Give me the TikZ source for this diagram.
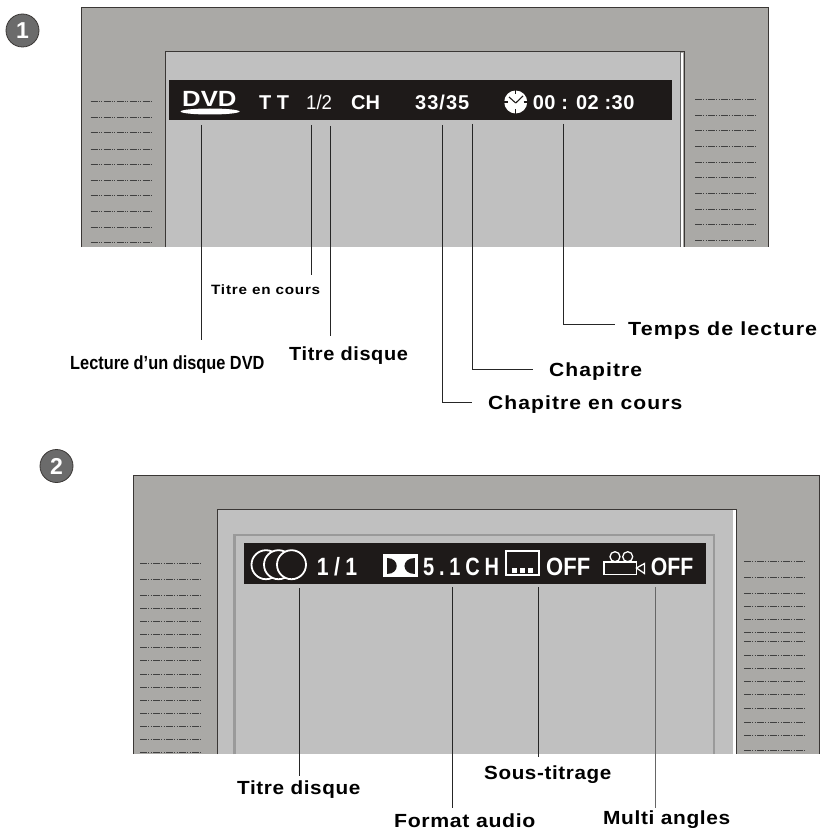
\documentclass[tikz,border=0pt]{standalone}
\usepackage{fontspec}
\setmainfont{Liberation Sans}
\usetikzlibrary{calc}
\definecolor{tvgrey}{HTML}{AAA9A6}
\definecolor{scrgrey}{HTML}{C0C0C0}
\definecolor{barblack}{HTML}{1E1A19}
\definecolor{framegrey}{HTML}{9A9A9A}
\definecolor{edgedark}{HTML}{3A3735}
\newcommand{\wide}[3]{\scalebox{#1}[1]{\addfontfeature{LetterSpace=#2}#3}}
\tikzset{
	lab/.style={anchor=base west,inner sep=0pt,text=black,font=\bfseries\fontsize{19}{19}\selectfont},
	smalllab/.style={lab,font=\bfseries\fontsize{13.5}{13.5}\selectfont},
	bartxt/.style={anchor=base west,inner sep=0pt,text=white,font=\bfseries\fontsize{20}{20}\selectfont},
	bigtxt/.style={bartxt,font=\bfseries\fontsize{25}{25}\selectfont},
	badge/.style={circle,draw=edgedark,fill=black!58,line width=0.8pt,minimum size=33pt,inner sep=0pt,text=white,font=\bfseries\fontsize{23}{23}\selectfont},
	callout/.style={line width=1pt,color=black!85},
	grille/.style={line width=1pt,color=black!75,dash pattern=on 7pt off 1.2pt on 1.2pt off 1.2pt on 1.2pt off 1.2pt},
	tvedge/.style={line width=1pt,color=edgedark},
	iconline/.style={draw=white,line width=1.3pt}
}
\begin{document}
\begin{tikzpicture}[x=1pt,y=-1pt]
	\useasboundingbox(0,0) rectangle (821,832);
	\node[badge] (one) at (22.5,30.5) {1};
	\node[badge] (two) at (56.5,466) {2};

	% first set
	\fill[tvgrey](81,8) rectangle (768,247);
	\fill[scrgrey](165,52) rectangle (680,247);
	\fill[white](680,53) rectangle (683,247);
	\draw[tvedge](81,247) -- (81,8) -- (768,8) -- (768,247);
	\draw[tvedge](165,247) -- (165,52) -- (684,52) -- (684,247);
	\draw[color=black!60](680,52) -- (680,247);
	\foreach \y in {102,117.7,133,149,164.5,180,195.5,211,227,242.7}
		\draw[grille](90.5,\y) -- (153,\y);
	\foreach \y in {100,115.7,131,146.5,162,177.5,193.5,209,224.5,240}
		\draw[grille](695,\y) -- (757,\y);
	\fill[barblack](169,80) rectangle (672,120);

	\node[bartxt,font=\bfseries\fontsize{22}{22}\selectfont] (dvd) at (182,106.7) {\wide{1.17}{0}{DVD}};
	\fill[white](210,111.5) ellipse (29.5 and 3);
	\node[bartxt] (tt) at (259,110) {T T};
	\node[bartxt,font=\fontsize{20}{20}\selectfont] (titlenum) at (306,110) {\wide{.93}{0}{1/2}};
	\node[bartxt] (ch) at (351,110) {CH};
	\node[bartxt] (chapnum) at (415,110) {\wide{1}{5}{33/35}};
	\fill[white](515.7,102) circle (11.5);
	\draw[color=barblack,line width=1.1pt](515.7,103) -- (509,97);
	\draw[color=barblack,line width=1.1pt](515.7,103) -- (523,96);
	\draw[color=barblack,line width=1.1pt](515.7,90) -- (515.7,94);
	\draw[color=barblack,line width=1.1pt](515.7,109.5) -- (515.7,114);
	\draw[color=barblack,line width=1.1pt](504,102) -- (508,102);
	\draw[color=barblack,line width=1.1pt](523.5,102) -- (527.5,102);
	\node[bartxt] (clocktime) at (532.7,110) {\wide{1}{2}{00 : 02 :30}};

	\coordinate (dvdtop) at (201,125);
	\coordinate (numtop) at (311,125);
	\coordinate (titletop) at (330,126);
	\coordinate (curtop) at (442.7,125);
	\coordinate (chaptop) at (472.7,124);
	\coordinate (timetop) at (563,124);
	\node[lab] (lecture) at (70,369) {\wide{.86}{0}{Lecture d’un disque DVD}};
	\node[smalllab] (encours) at (211,294) {\wide{1.13}{5}{Titre en cours}};
	\node[lab] (titre) at (289,360) {\wide{1.05}{3}{Titre disque}};
	\node[lab] (temps) at (628,335) {\wide{1.13}{5}{Temps de lecture}};
	\node[lab] (chapitre) at (549,376.7) {\wide{1.11}{5}{Chapitre}};
	\node[lab] (chapcours) at (488,409) {\wide{1.11}{5}{Chapitre en cours}};
	\draw[callout,shorten >=15.3pt](dvdtop) -- (dvdtop |- lecture.north);
	\draw[callout,shorten >=9.2pt](numtop) -- (numtop |- encours.north);
	\draw[callout,shorten >=10.3pt](titletop) -- (titletop |- titre.north);
	\draw[callout,shorten >=13pt](timetop) |- ([yshift=6pt]temps.west);
	\draw[callout,shorten >=16pt](chaptop) |- ([yshift=2pt]chapitre.west);
	\draw[callout,shorten >=16pt](curtop) |- ([yshift=2pt]chapcours.west);

	% second set
	\fill[tvgrey](133,475) rectangle (819,754);
	\fill[scrgrey](217,509) rectangle (733,754);
	\fill[white](733,510) rectangle (735.5,754);
	\draw[tvedge](133,754) -- (133,475) -- (819,475) -- (819,754);
	\draw[tvedge](217,754) -- (217,509) -- (736,509) -- (736,754);
	\draw[color=framegrey,line width=2.5pt](234.5,754) -- (234.5,535) -- (714,535) -- (714,754);
	\foreach \y in {563.7,579,595,608,621,634.7,647.3,660.7,674,687,700,713,726,739,752.5}
		\draw[grille](140,\y) -- (202,\y);
	\foreach \y in {561.7,577,593,606,619,632,641.7,655,668,681,694,708,722,735,750}
		\draw[grille](744,\y) -- (806,\y);
	\fill[barblack](244,543) rectangle (706,584);

	\foreach \x in {266,278.5,291.5}
		\draw[iconline,fill=barblack,line width=1.8pt](\x,564.7) circle (14.5);
	\node[bigtxt] (audionum) at (316.7,575) {\wide{.85}{25}{1/1}};
	\fill[white](383,554) rectangle (418,577);
	\fill[barblack](386.5,558) .. controls (400,558) and (400,573.5) .. (386.5,573.5) -- cycle;
	\fill[barblack](414.5,558) .. controls (401,558) and (401,573.5) .. (414.5,573.5) -- cycle;
	\node[bigtxt] (format) at (423,575) {\wide{.8}{24}{5.1CH}};
	\draw[iconline](506,551) rectangle (539,575);
	\fill[white](512,567.5) rectangle (517,573);
	\fill[white](520,567.5) rectangle (525,573);
	\fill[white](528,567.5) rectangle (533,573);
	\node[bigtxt] (suboff) at (546,575.7) {\wide{.88}{0}{OFF}};
	\draw[iconline](604,562) rectangle (636.5,574.7);
	\draw[iconline](615,556.7) circle (5);
	\draw[iconline](627.7,556.7) circle (5);
	\draw[iconline](636.5,568) -- (644.5,563.5) -- (644.5,573.5) -- cycle;
	\node[bigtxt] (camoff) at (650.7,575.7) {\wide{.85}{0}{OFF}};

	\coordinate (disctop) at (299.3,588);
	\coordinate (formattop) at (452.3,587);
	\coordinate (subtop) at (538.3,587);
	\coordinate (angletop) at (655.7,587);
	\node[lab] (titrebis) at (237,794) {\wide{1.09}{3}{Titre disque}};
	\node[lab] (formatlab) at (394,827.5) {\wide{1.12}{3}{Format audio}};
	\node[lab] (soustitre) at (484,779) {\wide{1.085}{3}{Sous-titrage}};
	\node[lab] (multi) at (603,824) {\wide{1.10}{3}{Multi angles}};
	\draw[callout,shorten >=4.3pt](disctop) -- (disctop |- titrebis.north);
	\draw[callout,shorten >=5.8pt](formattop) -- (formattop |- formatlab.north);
	\draw[callout,shorten >=8.3pt](subtop) -- (subtop |- soustitre.north);
	\draw[callout,color=black!60,shorten >=2.3pt](angletop) -- (angletop |- multi.north);
\end{tikzpicture}
\end{document}
